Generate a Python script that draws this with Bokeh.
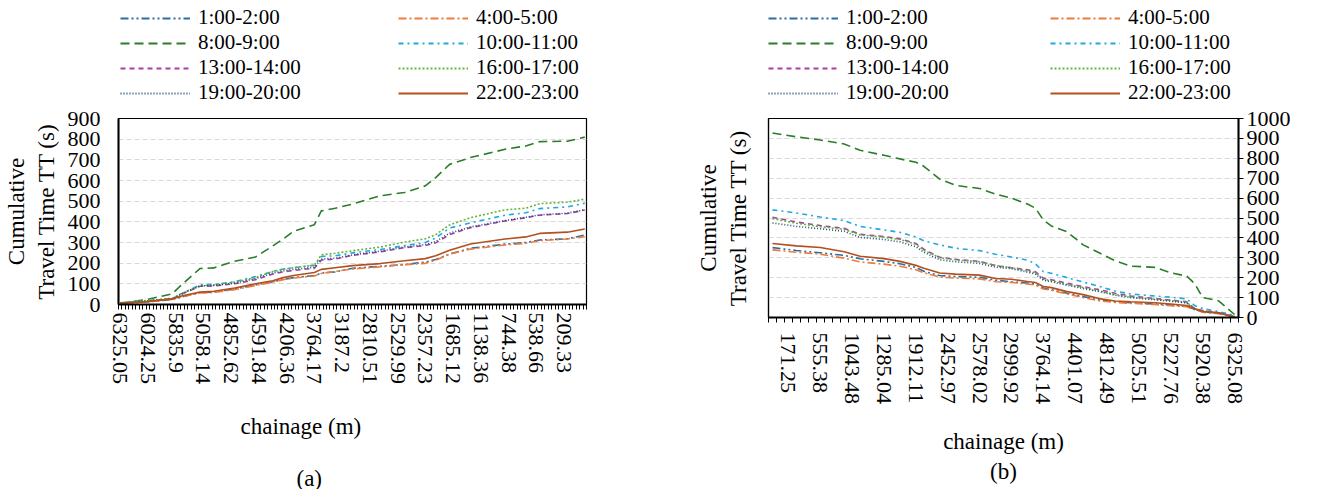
from bokeh.plotting import figure
from bokeh.models import Range1d, FixedTicker, LinearAxis, Legend, LegendItem, Title
from bokeh.layouts import row, column
from bokeh.embed import file_html
from bokeh.resources import INLINE

FONT = "Liberation Serif"

series_names = ["1:00-2:00", "4:00-5:00", "8:00-9:00", "10:00-11:00",
                "13:00-14:00", "16:00-17:00", "19:00-20:00", "22:00-23:00"]
series_colors = ["#2E6E9E", "#F07A3A", "#2A7D2A", "#22A8E0",
                 "#A93EA8", "#64B33C", "#1F4E79", "#B4501E"]
series_dash = ["8 3 2 3 2 3", "8 3 2 3", "9 5", "5 4 2 4",
               "5 4", "2 2", "1 2", "solid"]

# ---------------- chart (a) ----------------
a_n_categories = 135
a_tick_labels = ["6325.05", "6024.25", "5835.9", "5058.14", "4852.62", "4591.84",
                 "4206.36", "3764.17", "3187.2", "2810.51", "2529.99", "2357.23",
                 "1685.12", "1138.36", "744.38", "538.66", "209.33"]
a_idx = [0, 8, 15, 18, 23, 27, 33, 39, 44, 47, 50, 56, 58, 62, 67, 75, 82, 88,
         91, 95, 101, 111, 117, 121, 129, 134]
a_01 = [5, 13, 25, 38, 58, 60, 75, 95, 110, 122, 130, 140, 152, 158, 175, 185, 193,
        205, 218, 244, 272, 292, 300, 312, 318, 336]
a_04 = [5, 13, 25, 38, 56, 58, 72, 92, 108, 120, 128, 138, 150, 160, 172, 182, 193,
        199, 214, 244, 268, 288, 296, 309, 317, 328]
a_08 = [6, 25, 52, 100, 174, 177, 209, 230, 283, 317, 354, 386, 453, 466, 486, 526,
        542, 574, 614, 678, 711, 751, 767, 788, 790, 810]
a_10 = [8, 18, 28, 55, 95, 97, 110, 135, 160, 172, 178, 190, 232, 236, 250, 266, 285,
        300, 322, 370, 395, 432, 444, 464, 472, 490]
a_13 = [7, 17, 27, 52, 88, 90, 100, 120, 148, 158, 165, 175, 215, 220, 238, 255, 275,
        285, 298, 338, 372, 404, 420, 432, 440, 457]
a_16 = [8, 20, 30, 55, 90, 95, 108, 130, 160, 170, 178, 190, 240, 248, 260, 278, 302,
        318, 338, 385, 420, 458, 466, 488, 495, 510]
a_19 = [7, 17, 27, 54, 90, 92, 103, 125, 152, 162, 170, 180, 220, 224, 240, 258, 278,
        290, 305, 345, 375, 406, 422, 434, 442, 458]
a_22 = [5, 14, 27, 42, 60, 64, 80, 100, 115, 130, 140, 155, 170, 178, 188, 198, 212,
        222, 236, 262, 293, 317, 327, 344, 350, 365]
a_series = [a_01, a_04, a_08, a_10, a_13, a_16, a_19, a_22]

# ---------------- chart (b) ----------------
b_n_categories = 59
b_tick_labels = ["171.25", "555.38", "1043.48", "1285.04", "1912.11", "2452.97",
                 "2578.02", "2999.92", "3764.14", "4401.07", "4812.49", "5025.51",
                 "5227.76", "5920.38", "6325.08"]
b_idx = [0, 3, 6, 9, 11, 14, 16, 18, 19, 21, 23, 26, 28, 30, 32, 33, 34, 35, 37, 39,
         41, 43, 45, 48, 50, 52, 53, 54, 56, 58]
b_01 = [351, 337, 325, 312, 295, 282, 270, 252, 232, 211, 206, 202, 188, 179, 173, 168,
        148, 140, 122, 105, 88, 79, 74, 68, 62, 57, 42, 28, 22, 2]
b_04 = [340, 328, 318, 298, 279, 268, 258, 240, 225, 203, 198, 194, 180, 176, 168, 163,
        143, 137, 118, 100, 84, 76, 71, 65, 59, 54, 40, 26, 19, 2]
b_08 = [927, 908, 892, 872, 840, 815, 797, 780, 760, 695, 664, 648, 620, 600, 570, 550,
        490, 460, 430, 365, 325, 285, 258, 252, 225, 208, 170, 100, 84, 15]
b_10 = [541, 525, 505, 487, 458, 440, 428, 405, 385, 365, 348, 336, 318, 304, 288, 270,
        230, 222, 200, 178, 157, 133, 118, 108, 102, 94, 60, 45, 30, 10]
b_13 = [504, 480, 462, 448, 418, 407, 395, 372, 343, 302, 292, 282, 260, 250, 240, 230,
        198, 190, 172, 155, 140, 122, 108, 95, 88, 79, 45, 35, 24, 5]
b_16 = [497, 474, 456, 443, 415, 403, 392, 368, 338, 300, 290, 280, 262, 250, 234, 225,
        192, 185, 166, 150, 134, 116, 103, 92, 85, 76, 43, 34, 23, 5]
b_19 = [475, 458, 446, 433, 402, 392, 380, 356, 328, 290, 280, 272, 253, 245, 228, 218,
        187, 180, 162, 146, 130, 112, 100, 89, 82, 73, 40, 32, 22, 5]
b_22 = [372, 360, 352, 330, 308, 296, 282, 262, 248, 224, 218, 213, 196, 192, 181, 176,
        156, 150, 130, 115, 95, 83, 79, 74, 68, 60, 45, 30, 24, 2]
b_series = [b_01, b_04, b_08, b_10, b_13, b_16, b_19, b_22]

LEGEND_H = 105


def style_text_axis(ax, size="22px"):
    ax.major_label_text_font = FONT
    ax.major_label_text_font_size = size
    ax.major_label_text_color = "black"
    ax.axis_label_text_font = FONT
    ax.axis_label_text_font_size = "23px"
    ax.axis_label_text_font_style = "normal"
    ax.axis_label_text_color = "black"


def make_legend_fig(idx, series, frame_w, border_l, border_r, col_x, vy):
    # strip above the chart, same horizontal frame as the chart below it
    lf = figure(frame_width=frame_w, frame_height=LEGEND_H,
                x_range=Range1d(0, 1), y_range=Range1d(-20, -10),
                output_backend="svg", toolbar_location=None,
                x_axis_location=None, y_axis_location=None,
                min_border_left=border_l, min_border_right=border_r,
                min_border_top=0, min_border_bottom=0)
    lf.outline_line_color = None
    lf.grid.visible = False
    lf.background_fill_color = "white"
    lf.border_fill_color = "white"
    rs = []
    for vals, col, dash in zip(series, series_colors, series_dash):
        # same series, outside this strip's visible range: only the legend swatches show
        rs.append(lf.line(idx, vals, line_color=col, line_width=1.8, line_dash=dash))
    columns = [[0, 2, 4, 6], [1, 3, 5, 7]]
    for members, x in zip(columns, col_x):
        items = [LegendItem(label=series_names[i], renderers=[rs[i]]) for i in members]
        leg = Legend(items=items, orientation="vertical", location=(x, vy),
                     glyph_width=70, glyph_height=20, label_height=20,
                     label_standoff=8, spacing=0, padding=0, margin=0,
                     border_line_color=None, background_fill_alpha=0,
                     label_text_font=FONT, label_text_font_size="21px",
                     label_text_color="black")
        lf.add_layout(leg)
    return lf


def make_chart(n_cat, tick_labels, first_label, step, idx, series, ymax, frame_w, frame_h,
               borders, yaxis_right, xlabel_standoff, titles, xaxis_label=None,
               xaxis_label_standoff=0):
    p = figure(frame_width=frame_w, frame_height=frame_h,
               x_range=Range1d(-0.5, n_cat - 0.5), y_range=Range1d(0, ymax),
               output_backend="svg", toolbar_location=None,
               y_axis_location="right" if yaxis_right else "left",
               min_border_left=borders[0], min_border_right=borders[1],
               min_border_top=borders[2], min_border_bottom=borders[3])
    p.background_fill_color = "white"
    p.border_fill_color = "white"
    p.outline_line_color = "black"
    p.outline_line_width = 1.2
    p.xgrid.grid_line_color = None
    p.ygrid.grid_line_color = "#D9D9D9"
    p.ygrid.grid_line_dash = "5 3"
    p.ygrid.grid_line_width = 1

    label_pos = [first_label + step * k for k in range(len(tick_labels))]
    xa = p.xaxis[0]
    xa.ticker = FixedTicker(ticks=label_pos, minor_ticks=[k - 0.5 for k in range(n_cat + 1)])
    xa.major_label_overrides = {pos: lab for pos, lab in zip(label_pos, tick_labels)}
    xa.major_label_orientation = "vertical"
    xa.major_tick_line_color = None
    xa.major_tick_out = 0
    xa.major_tick_in = 0
    xa.minor_tick_line_color = "black"
    xa.minor_tick_out = 5
    xa.minor_tick_in = 0
    xa.minor_tick_line_width = 1
    xa.axis_line_width = 2
    xa.axis_line_color = "black"
    xa.major_label_standoff = xlabel_standoff
    if xaxis_label is not None:
        xa.axis_label = xaxis_label
        xa.axis_label_standoff = xaxis_label_standoff
    style_text_axis(xa)

    ya = p.yaxis[0]
    ya.ticker = FixedTicker(ticks=list(range(0, ymax + 1, 100)))
    ya.minor_tick_line_color = None
    ya.axis_line_width = 2
    ya.axis_line_color = "black"
    style_text_axis(ya)
    if yaxis_right:
        ya.major_tick_line_color = "black"
        ya.major_tick_out = 5
        ya.major_tick_in = 0
        ya.major_label_standoff = 3
        la = LinearAxis(ticker=FixedTicker(ticks=[]), axis_label="Cumulative\nTravel Time TT (s)",
                        axis_label_standoff=18, axis_line_color="black", axis_line_width=1.2,
                        major_tick_out=0, major_tick_in=0)
        style_text_axis(la)
        p.add_layout(la, "left")
    else:
        ya.major_tick_line_color = None
        ya.major_tick_out = 0
        ya.major_tick_in = 0
        ya.major_label_standoff = 18
        ya.axis_label = "Cumulative\nTravel Time TT (s)"
        ya.axis_label_standoff = 6

    for vals, col, dash in zip(series, series_colors, series_dash):
        p.line(idx, vals, line_color=col, line_width=1.6, line_dash=dash)

    for text, off, standoff in titles:
        t = Title(text=text, align="left", offset=off, standoff=standoff,
                  text_font=FONT, text_font_size="23px", text_font_style="normal",
                  text_color="black")
        p.add_layout(t, "below")
    return p


pa = make_chart(a_n_categories, a_tick_labels, 0, 8, a_idx, a_series, 900, 468, 186,
                (118, 82, 13, 184), False, 3,
                [("chainage (m)", 122, 49), ("(a)", 178, 0)])
pb = make_chart(b_n_categories, b_tick_labels, 2, 4, b_idx, b_series, 1000, 470, 199,
                (100, 60, 13, 171), True, 10, [],
                xaxis_label="chainage (m)\n(b)", xaxis_label_standoff=22)

la_fig = make_legend_fig(a_idx, a_series, 468, 118, 82, (2, 280), 0)
lb_fig = make_legend_fig(b_idx, b_series, 470, 100, 60, (0, 282), 0)

layout = row(column(la_fig, pa), column(lb_fig, pb))
open("out.html", "w").write(file_html(layout, INLINE))
